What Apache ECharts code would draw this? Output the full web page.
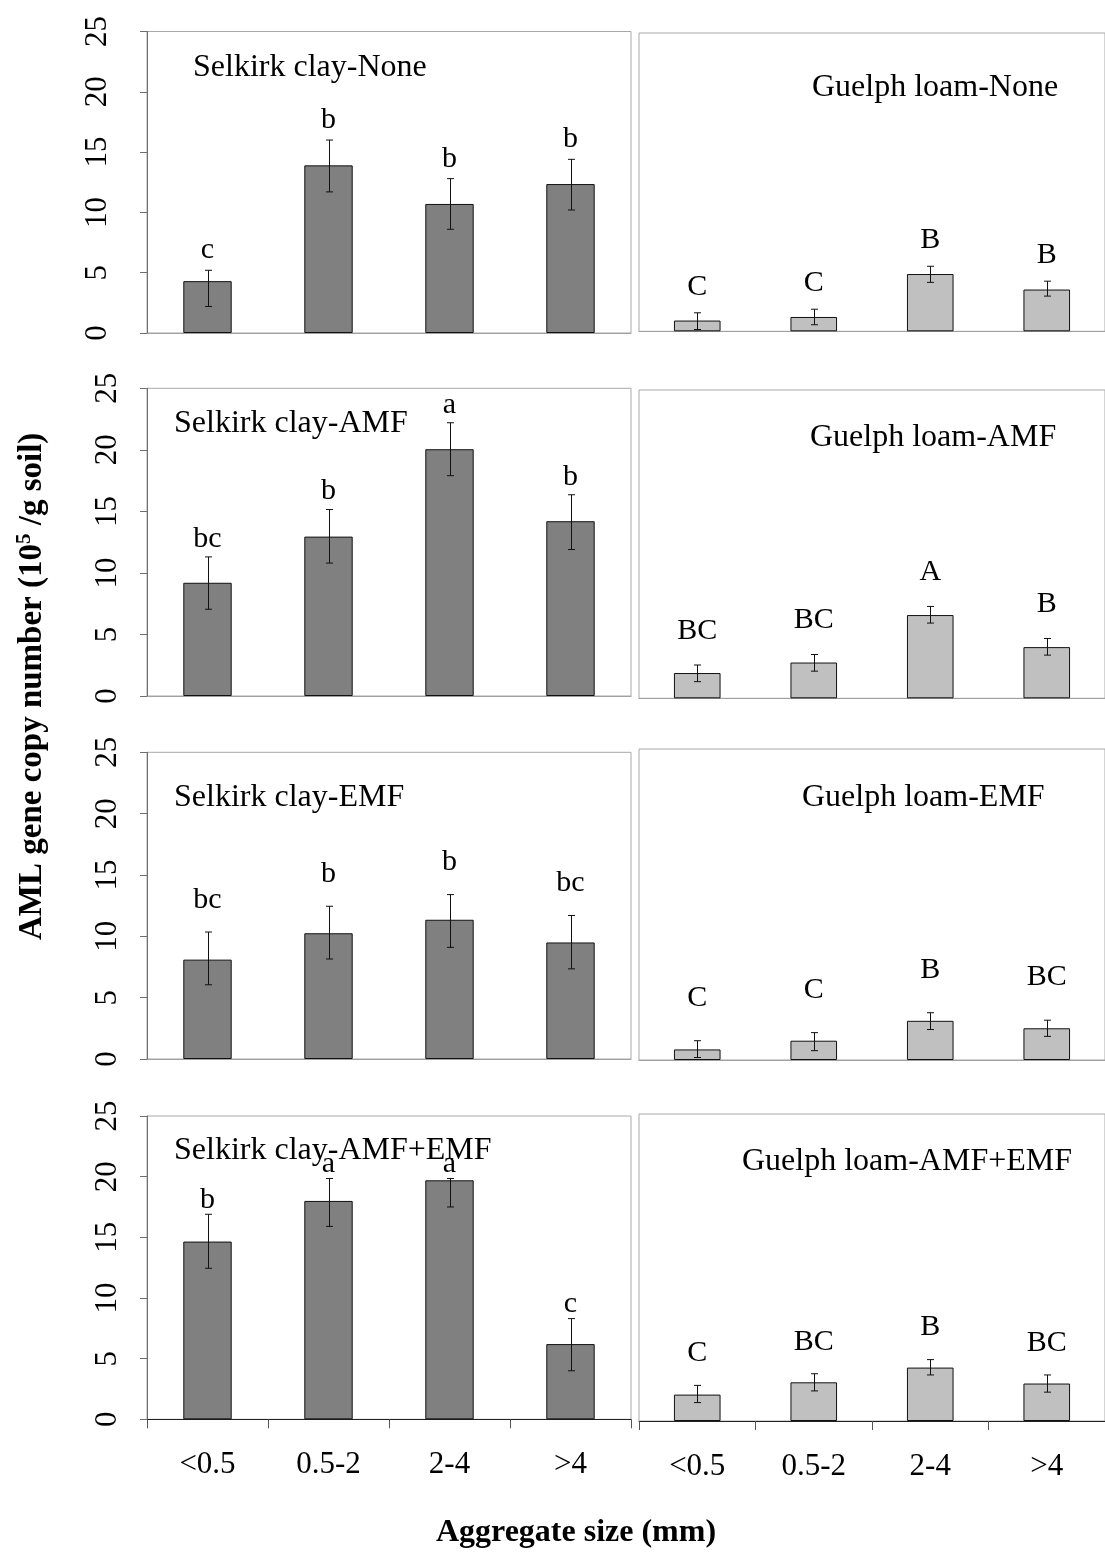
<!DOCTYPE html>
<html>
<head>
<meta charset="utf-8">
<script src="https://cdn.jsdelivr.net/npm/echarts@6/dist/echarts.min.js"></script>
<style>
  html, body { margin: 0; padding: 0; background: #fff; }
  #chart { width: 1105px; height: 1552px; }
</style>
</head>
<body>
<div id="chart"></div>
<script>
// Aggregate size classes (mm)
const categories = ['<0.5', '0.5-2', '2-4', '>4'];
const yTicks = [0, 5, 10, 15, 20, 25];

// Selkirk clay — mean AML gene copy number (10^5 / g soil) and error bar ends
const selkirkNone      = [4.3, 13.9, 10.7, 12.35];
const selkirkNoneLo    = [2.2, 11.7, 8.6, 10.2];
const selkirkNoneHi    = [5.2, 16.0, 12.8, 14.4];
const selkirkNoneSig   = ['c', 'b', 'b', 'b'];

const selkirkAMF       = [9.2, 12.95, 20.05, 14.2];
const selkirkAMFLo     = [7.05, 10.8, 17.9, 11.9];
const selkirkAMFHi     = [11.3, 15.15, 22.2, 16.35];
const selkirkAMFSig    = ['bc', 'b', 'a', 'b'];

const selkirkEMF       = [8.1, 10.25, 11.35, 9.5];
const selkirkEMFLo     = [6.05, 8.15, 9.1, 7.35];
const selkirkEMFHi     = [10.35, 12.45, 13.4, 11.7];
const selkirkEMFSig    = ['bc', 'b', 'b', 'bc'];

const selkirkBoth      = [14.65, 18.0, 19.7, 6.2];
const selkirkBothLo    = [12.45, 15.9, 17.5, 4.0];
const selkirkBothHi    = [16.9, 19.85, 19.85, 8.3];
const selkirkBothSig   = ['b', 'a', 'a', 'c'];

// Guelph loam
const guelphNone       = [0.9, 1.2, 4.8, 3.5];
const guelphNoneLo     = [0.15, 0.55, 4.1, 2.95];
const guelphNoneHi     = [1.55, 1.85, 5.45, 4.2];
const guelphNoneSig    = ['C', 'C', 'B', 'B'];

const guelphAMF        = [2.05, 2.9, 6.75, 4.15];
const guelphAMFLo      = [1.35, 2.2, 6.1, 3.5];
const guelphAMFHi      = [2.7, 3.55, 7.45, 4.85];
const guelphAMFSig     = ['BC', 'BC', 'A', 'B'];

const guelphEMF        = [0.85, 1.55, 3.15, 2.55];
const guelphEMFLo      = [0.2, 0.75, 2.45, 1.9];
const guelphEMFHi      = [1.55, 2.2, 3.8, 3.2];
const guelphEMFSig     = ['C', 'C', 'B', 'BC'];

const guelphBoth       = [2.15, 3.15, 4.35, 3.05];
const guelphBothLo     = [1.5, 2.45, 3.75, 2.35];
const guelphBothHi     = [2.9, 3.85, 5.0, 3.75];
const guelphBothSig    = ['C', 'BC', 'B', 'BC'];

const SERIF = '"Liberation Serif", "Times New Roman", Times, serif';

// Panel layout: grid rectangle, title placement, letter gap above error bar
const panels = [
  { name: 'Selkirk clay-None',    mean: selkirkNone, lo: selkirkNoneLo, hi: selkirkNoneHi, sig: selkirkNoneSig,
    rect: [147, 31.5, 484, 301.5], left: true, titleX: 193, titleY: 68, gap: 20, labelMargin: 34, bottom: false },
  { name: 'Guelph loam-None',     mean: guelphNone, lo: guelphNoneLo, hi: guelphNoneHi, sig: guelphNoneSig,
    rect: [639, 33, 472, 298.3], left: false, titleX: 812, titleY: 88, gap: 26, bottom: false },
  { name: 'Selkirk clay-AMF',     mean: selkirkAMF, lo: selkirkAMFLo, hi: selkirkAMFHi, sig: selkirkAMFSig,
    rect: [147, 388.3, 484, 307.7], left: true, titleX: 174, titleY: 424, gap: 18, labelMargin: 24, bottom: false },
  { name: 'Guelph loam-AMF',      mean: guelphAMF, lo: guelphAMFLo, hi: guelphAMFHi, sig: guelphAMFSig,
    rect: [639, 390, 472, 308.3], left: false, titleX: 810, titleY: 438, gap: 34, bottom: false },
  { name: 'Selkirk clay-EMF',     mean: selkirkEMF, lo: selkirkEMFLo, hi: selkirkEMFHi, sig: selkirkEMFSig,
    rect: [147, 752.3, 484, 306.7], left: true, titleX: 174, titleY: 798, gap: 32, labelMargin: 24, bottom: false },
  { name: 'Guelph loam-EMF',      mean: guelphEMF, lo: guelphEMFLo, hi: guelphEMFHi, sig: guelphEMFSig,
    rect: [639, 749, 472, 311], left: false, titleX: 802, titleY: 798, gap: 43, bottom: false },
  { name: 'Selkirk clay-AMF+EMF', mean: selkirkBoth, lo: selkirkBothLo, hi: selkirkBothHi, sig: selkirkBothSig,
    rect: [147, 1116, 484, 303.3], left: true, titleX: 174, titleY: 1151, gap: 14, labelMargin: 24, bottom: true },
  { name: 'Guelph loam-AMF+EMF',  mean: guelphBoth, lo: guelphBothLo, hi: guelphBothHi, sig: guelphBothSig,
    rect: [639, 1114, 472, 307], left: false, titleX: 742, titleY: 1162, gap: 32, bottom: true }
];

const grids = [], xAxes = [], yAxes = [], series = [], graphics = [];

panels.forEach((p, i) => {
  grids.push({
    left: p.rect[0], top: p.rect[1], width: p.rect[2], height: p.rect[3],
    show: true, borderColor: '#a8a8a8', borderWidth: 1, backgroundColor: 'transparent'
  });

  xAxes.push({
    type: 'category', gridIndex: i, data: categories,
    axisLine: { show: true, lineStyle: { color: p.bottom ? '#222' : '#a0a0a0', width: 1 } },
    axisTick: { show: p.bottom, length: 9, lineStyle: { color: '#555' } },
    axisLabel: {
      show: p.bottom, margin: 30, color: '#000',
      fontFamily: SERIF, fontSize: 31
    },
    splitLine: { show: false }
  });

  yAxes.push({
    type: 'value', gridIndex: i, min: yTicks[0], max: yTicks[yTicks.length - 1], interval: 5,
    axisLine: { show: p.left, lineStyle: { color: '#6e6e6e', width: 1 } },
    axisTick: { show: p.left, length: 7, lineStyle: { color: '#6e6e6e' } },
    axisLabel: {
      show: p.left, rotate: 90, margin: p.labelMargin || 24, color: '#000',
      fontFamily: SERIF, fontSize: 31
    },
    splitLine: { show: false }
  });

  series.push({
    type: 'bar', xAxisIndex: i, yAxisIndex: i,
    data: p.mean, barWidth: '40%',
    itemStyle: { color: p.left ? '#808080' : '#c0c0c0', borderColor: '#111', borderWidth: 1 },
    animation: false, silent: true
  });

  const sig = p.sig, gap = p.gap;
  series.push({
    type: 'custom', xAxisIndex: i, yAxisIndex: i,
    data: p.mean.map((_, k) => [k, p.lo[k], p.hi[k]]),
    encode: { x: 0, y: [1, 2] },
    clip: false, silent: true, animation: false, z: 5,
    renderItem: function (params, api) {
      const k = api.value(0);
      const a = api.coord([k, api.value(1)]);
      const b = api.coord([k, api.value(2)]);
      const x = Math.round(a[0]) + 0.5;
      const cap = 3.5;
      const st = { stroke: '#111', lineWidth: 1 };
      return {
        type: 'group',
        children: [
          { type: 'line', shape: { x1: x, y1: a[1], x2: x, y2: b[1] }, style: st },
          { type: 'line', shape: { x1: x - cap, y1: a[1], x2: x + cap, y2: a[1] }, style: st },
          { type: 'line', shape: { x1: x - cap, y1: b[1], x2: x + cap, y2: b[1] }, style: st },
          { type: 'text', x: a[0], y: b[1] - gap,
            style: { text: sig[params.dataIndex], fill: '#000', font: '30px ' + SERIF,
                     align: 'center', verticalAlign: 'middle' } }
        ]
      };
    }
  });

  graphics.push({
    type: 'text', x: p.titleX, y: p.titleY, z: 10,
    style: { text: p.name, fill: '#000', font: '32px ' + SERIF, align: 'left', verticalAlign: 'middle' }
  });
});

// Axis titles
graphics.push({
  type: 'text', x: 576, y: 1533, z: 10,
  style: { text: 'Aggregate size (mm)', fill: '#000', font: 'bold 32px ' + SERIF,
           align: 'center', verticalAlign: 'middle' }
});
graphics.push({
  type: 'text', x: 32, y: 940, rotation: Math.PI / 2, z: 10,
  style: {
    text: '{t|AML gene copy number (10}{s|5}{t| /g soil)}',
    align: 'left', verticalAlign: 'middle',
    rich: {
      t: { font: 'bold 33px ' + SERIF, fill: '#000', lineHeight: 36 },
      s: { font: 'bold 21px ' + SERIF, fill: '#000', verticalAlign: 'top', lineHeight: 36 }
    }
  }
});

const chart = echarts.init(document.getElementById('chart'), null, { renderer: 'canvas' });
chart.setOption({
  animation: false,
  backgroundColor: '#ffffff',
  grid: grids,
  xAxis: xAxes,
  yAxis: yAxes,
  series: series,
  graphic: graphics
});
</script>
</body>
</html>
